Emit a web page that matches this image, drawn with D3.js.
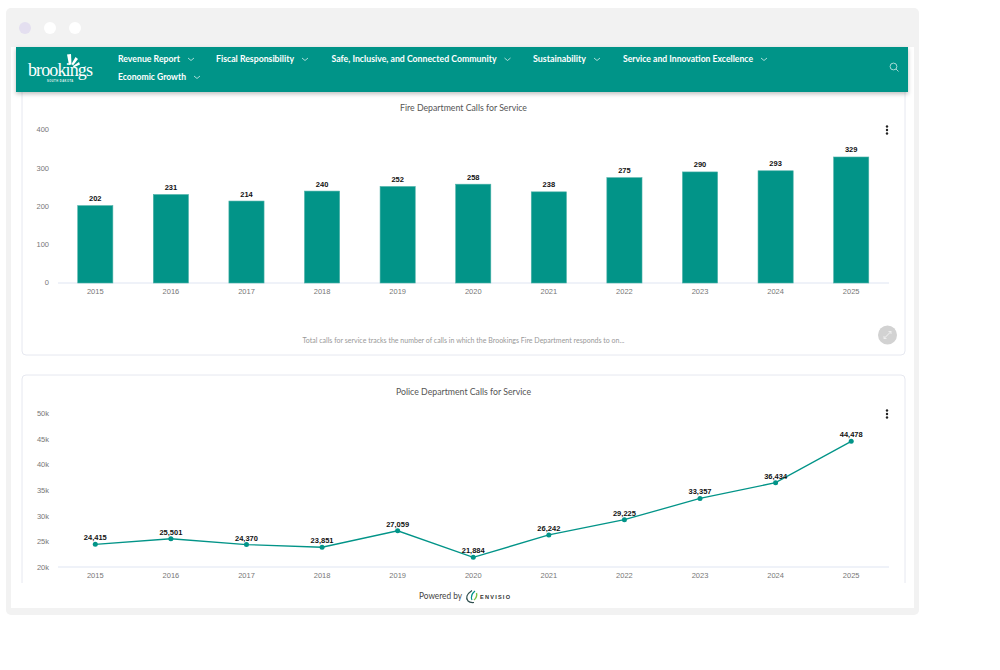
<!DOCTYPE html>
<html>
<head>
<meta charset="utf-8">
<script src="https://cdn.jsdelivr.net/npm/d3@7"></script>
<style>
html, body { margin: 0; padding: 0; background: #fff; overflow: hidden; }
svg { display: block; }
text { font-family: "Liberation Sans", Arial, sans-serif; }
</style>
</head>
<body>
<div id="chart-area"></div>
<script>
// data
var years = ["2015","2016","2017","2018","2019","2020","2021","2022","2023","2024","2025"];
var fireCalls = [202,231,214,240,252,258,238,275,290,293,329];
var policeCalls = [24415,25501,24370,23851,27059,21884,26242,29225,33357,36434,44478];
var fireTicks = [0,100,200,300,400];
var policeTicks = [20000,25000,30000,35000,40000,45000,50000];
var navRow1 = [
	{label: "Revenue Report", x: 118, w: 62},
	{label: "Fiscal Responsibility", x: 216, w: 78},
	{label: "Safe, Inclusive, and Connected Community", x: 331.5, w: 165},
	{label: "Sustainability", x: 533, w: 53},
	{label: "Service and Innovation Excellence", x: 623, w: 130}
];
var navRow2 = [{label: "Economic Growth", x: 118, w: 68}];

var teal = "#029488";
var uiFont = "Lato, 'Noto Sans', sans-serif";
var comma = d3.format(",");

var svg = d3.select("#chart-area").append("svg")
	.attr("width", 1000)
	.attr("height", 670);

var defs = svg.append("defs");
var shadow = defs.append("filter").attr("id", "hdr").attr("x", "-2%").attr("y", "-20%").attr("width", "104%").attr("height", "150%");
shadow.append("feDropShadow").attr("dx", 0).attr("dy", 2).attr("stdDeviation", 2).attr("flood-color", "#000").attr("flood-opacity", 0.25);

// window frame
svg.append("rect").attr("x", 6).attr("y", 8).attr("width", 913).attr("height", 607).attr("rx", 5).attr("fill", "#f2f2f2");
svg.append("rect").attr("x", 11).attr("y", 47).attr("width", 903).attr("height", 561).attr("fill", "#fff");

svg.append("circle").attr("cx", 25).attr("cy", 28).attr("r", 6).attr("fill", "#e4dff0");
svg.append("circle").attr("cx", 50).attr("cy", 28).attr("r", 6).attr("fill", "#fff");
svg.append("circle").attr("cx", 75).attr("cy", 28).attr("r", 6).attr("fill", "#fff");

// panels
svg.append("path").attr("d", "M22,85 V351 Q22,355 26,355 H901 Q905,355 905,351 V85")
	.attr("fill", "#fff").attr("stroke", "#e6e8f0").attr("stroke-width", 1);
svg.append("path").attr("d", "M22,583 V379 Q22,375 26,375 H901 Q905,375 905,379 V583")
	.attr("fill", "#fff").attr("stroke", "#e6e8f0").attr("stroke-width", 1);

// header
svg.append("rect").attr("x", 16).attr("y", 47).attr("width", 892).attr("height", 45)
	.attr("fill", teal).attr("filter", "url(#hdr)");

// logo
svg.append("text").attr("x", 28).attr("y", 76).attr("fill", "#fff")
	.style("font-family", "'Liberation Serif', 'DejaVu Serif', serif")
	.attr("font-size", 18).attr("textLength", 65).attr("lengthAdjust", "spacing").text("brookings");
svg.append("text").attr("x", 47).attr("y", 82).attr("fill", "#e6f4f2")
	.attr("font-size", 2.6).attr("font-weight", "bold").attr("letter-spacing", 0.5).text("SOUTH DAKOTA");
var logo = svg.append("g").attr("fill", "#fff");
logo.append("path").attr("d", "M67,54.5 L71,54 L71.5,64.5 L69,65 Z");
logo.append("path").attr("d", "M71.5,64 L75.5,57 L78,59 L73,65.5 Z");
logo.append("path").attr("d", "M73,66 L79,62 L80,64.5 L73.5,67.5 Z");

// nav
function navItem(d, y) {
	svg.append("text").attr("x", d.x).attr("y", y)
		.attr("fill", "#fff").attr("font-size", 9.5).attr("font-weight", 700)
		.style("font-family", uiFont)
		.attr("textLength", d.w).attr("lengthAdjust", "spacingAndGlyphs").text(d.label);
	var end = d.x + d.w;
	svg.append("path").attr("d", "M" + (end + 8) + "," + (y - 4) + " l3,2.5 l3,-2.5")
		.attr("fill", "none").attr("stroke", "#d5efec").attr("stroke-width", 0.8);
}
navRow1.forEach(function(d) { navItem(d, 62); });
navRow2.forEach(function(d) { navItem(d, 80); });

// search icon
svg.append("circle").attr("cx", 893.5).attr("cy", 66.5).attr("r", 3.4).attr("fill", "none").attr("stroke", "#cdeae7").attr("stroke-width", 0.8);
svg.append("line").attr("x1", 896).attr("y1", 69).attr("x2", 898.5).attr("y2", 71.5).attr("stroke", "#cdeae7").attr("stroke-width", 0.8);

// shared x scale
var x = d3.scaleBand().domain(years).range([57.5, 889]).paddingInner(0.535).paddingOuter(0.2675);

function chartTitle(label, y, w) {
	svg.append("text").attr("x", 463.5).attr("y", y).attr("text-anchor", "middle")
		.style("font-family", uiFont)
		.attr("font-size", 9.4).attr("fill", "#555")
		.attr("textLength", w).attr("lengthAdjust", "spacingAndGlyphs").text(label);
}

function kebab(cy) {
	svg.selectAll(null).data([-3.5, 0, 3.5]).enter().append("circle")
		.attr("cx", 887).attr("cy", function(d) { return cy + d; }).attr("r", 1.2).attr("fill", "#222");
}

function styleAxes(gx, gy, lineStart, baseY) {
	gx.select(".domain").remove();
	gy.select(".domain").remove();
	gx.selectAll(".tick line").remove();
	gy.selectAll(".tick line").remove();
	gx.selectAll("text").attr("fill", "#777").attr("font-size", 7.5);
	gy.selectAll("text").attr("fill", "#777").attr("font-size", 7.5);
	svg.append("line").attr("x1", lineStart).attr("x2", 889).attr("y1", baseY).attr("y2", baseY)
		.attr("stroke", "#dfe5f2").attr("stroke-width", 1);
}

// fire chart
var yFire = d3.scaleLinear().domain([0, 400]).range([283, 129.8]);
chartTitle("Fire Department Calls for Service", 111, 127);
kebab(130);

var gx1 = svg.append("g").attr("transform", "translate(0,283)")
	.call(d3.axisBottom(x).tickSize(0).tickPadding(6));
var gy1 = svg.append("g").attr("transform", "translate(49,-0.5)")
	.call(d3.axisLeft(yFire).tickValues(fireTicks).tickSize(0).tickPadding(0));
styleAxes(gx1, gy1, 58, 283);

svg.selectAll(".fire-bar").data(fireCalls).enter().append("rect")
	.attr("class", "fire-bar")
	.attr("x", function(d, i) { return x(years[i]); })
	.attr("y", function(d) { return yFire(d); })
	.attr("width", x.bandwidth())
	.attr("height", function(d) { return 283 - yFire(d); })
	.attr("fill", teal)
	.attr("stroke", "#4db1a8").attr("stroke-width", 0.6);

svg.selectAll(".fire-label").data(fireCalls).enter().append("text")
	.attr("class", "fire-label")
	.attr("x", function(d, i) { return x(years[i]) + x.bandwidth() / 2; })
	.attr("y", function(d) { return yFire(d) - 4.5; })
	.attr("text-anchor", "middle").attr("font-size", 7.5).attr("font-weight", "bold").attr("fill", "#111")
	.text(function(d) { return d; });

svg.append("text").attr("x", 463.5).attr("y", 343).attr("text-anchor", "middle")
	.style("font-family", uiFont)
	.attr("font-size", 7.6).attr("fill", "#999")
	.attr("textLength", 322).attr("lengthAdjust", "spacingAndGlyphs")
	.text("Total calls for service tracks the number of calls in which the Brookings Fire Department responds to on...");

// expand button
svg.append("circle").attr("cx", 887.5).attr("cy", 335).attr("r", 9.5).attr("fill", "#d2d2d2");
svg.append("line").attr("x1", 884).attr("y1", 338.5).attr("x2", 891).attr("y2", 331.5).attr("stroke", "#f2f2f2").attr("stroke-width", 1);
svg.append("path").attr("d", "M884,336 V338.5 H886.5 M888.5,331.5 H891 V334").attr("fill", "none").attr("stroke", "#f2f2f2").attr("stroke-width", 0.8);

// police chart
var yPolice = d3.scaleLinear().domain([20000, 50000]).range([567, 413]);
chartTitle("Police Department Calls for Service", 395, 135);
kebab(414);

var gx2 = svg.append("g").attr("transform", "translate(0,567)")
	.call(d3.axisBottom(x).tickSize(0).tickPadding(6));
var gy2 = svg.append("g").attr("transform", "translate(49,0)")
	.call(d3.axisLeft(yPolice).tickValues(policeTicks).tickSize(0).tickPadding(0)
		.tickFormat(function(d) { return (d / 1000) + "k"; }));
styleAxes(gx2, gy2, 58, 567);

var lineGen = d3.line()
	.x(function(d, i) { return x(years[i]) + x.bandwidth() / 2; })
	.y(function(d) { return yPolice(d); });

svg.append("path").datum(policeCalls)
	.attr("d", lineGen).attr("fill", "none").attr("stroke", teal).attr("stroke-width", 1.3);

svg.selectAll(".police-dot").data(policeCalls).enter().append("circle")
	.attr("class", "police-dot")
	.attr("cx", function(d, i) { return x(years[i]) + x.bandwidth() / 2; })
	.attr("cy", function(d) { return yPolice(d); })
	.attr("r", 2.5).attr("fill", teal);

svg.selectAll(".police-label").data(policeCalls).enter().append("text")
	.attr("class", "police-label")
	.attr("x", function(d, i) { return x(years[i]) + x.bandwidth() / 2; })
	.attr("y", function(d) { return yPolice(d) - 4; })
	.attr("text-anchor", "middle").attr("font-size", 7.5).attr("font-weight", "bold").attr("fill", "#111")
	.text(function(d) { return comma(d); });

// footer
svg.append("text").attr("x", 419).attr("y", 599)
	.style("font-family", uiFont)
	.attr("font-size", 9).attr("fill", "#444")
	.attr("textLength", 43).attr("lengthAdjust", "spacingAndGlyphs").text("Powered by");
svg.append("path").attr("d", "M472,590.5 Q464,596 468,601 Q470,603 474,602.5").attr("fill", "none").attr("stroke", "#2f4f4f").attr("stroke-width", 1.2);
svg.append("path").attr("d", "M475,591 Q470,595 472,600").attr("fill", "none").attr("stroke", "#029488").attr("stroke-width", 1.2);
svg.append("path").attr("d", "M474,600 Q477.5,597 476.5,593").attr("fill", "none").attr("stroke", "#7ac143").attr("stroke-width", 1.4);
svg.append("text").attr("x", 480).attr("y", 598.5)
	.attr("font-size", 5.6).attr("font-weight", "bold").attr("fill", "#333")
	.attr("textLength", 30).text("ENVISIO");
</script>
</body>
</html>
